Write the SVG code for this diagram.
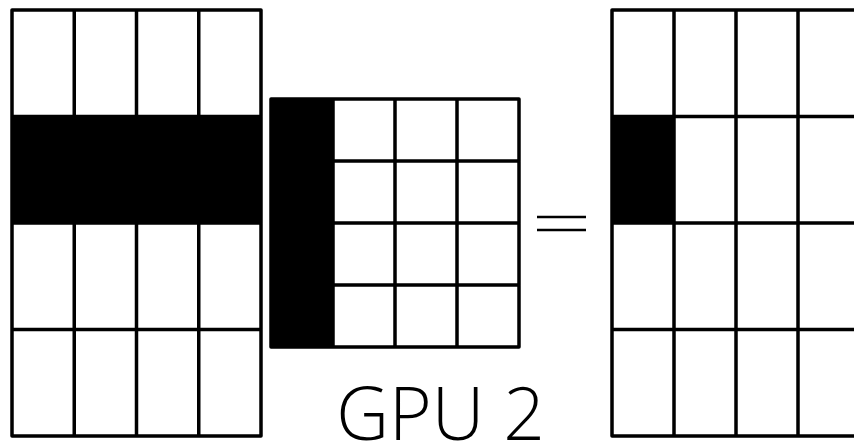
<svg xmlns="http://www.w3.org/2000/svg" width="854" height="444" viewBox="0 0 854 444">
<style>
.g{fill:none;stroke:#000;stroke-width:3.5;stroke-linejoin:round;stroke-linecap:round}
.f{fill:#000}
.eq{stroke:#000;stroke-width:2.5}
.t{font-family:"Open Sans","Noto Sans",sans-serif;font-weight:300;font-size:73px;fill:#000}
</style>
<rect width="854" height="444" fill="#fff"/>
<g id="matrixA">
<rect class="f" x="12" y="116.5" width="249" height="106.5"/>
<path class="g" d="M12 10H261V436H12Z M74.25 10V436 M136.5 10V436 M198.75 10V436 M12 116.5H261 M12 223H261 M12 329.5H261"/>
</g>
<g id="matrixB">
<rect class="f" x="271" y="99" width="62" height="248"/>
<path class="g" d="M271 99H519V347H271Z M333 99V347 M395 99V347 M457 99V347 M271 161H519 M271 223H519 M271 285H519"/>
</g>
<g id="equals">
<line class="eq" x1="537" y1="217" x2="586" y2="217"/>
<line class="eq" x1="537" y1="230" x2="586" y2="230"/>
</g>
<g id="matrixC">
<rect class="f" x="612" y="116.5" width="62" height="106.5"/>
<path class="g" d="M612 10H860V436H612Z M674 10V436 M736 10V436 M798 10V436 M612 116.5H860 M612 223H860 M612 329.5H860"/>
</g>
<g id="label">
<text class="t" x="440.5" y="440" text-anchor="middle">GPU 2</text>
</g>
<g id="connectors"/>
</svg>
